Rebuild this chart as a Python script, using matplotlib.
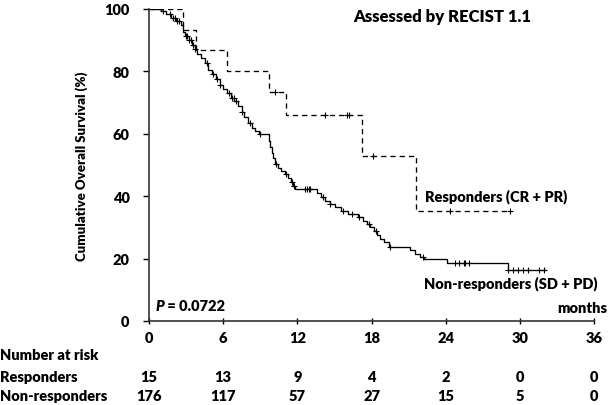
import numpy as np
import matplotlib
matplotlib.use("Agg")
import matplotlib.pyplot as plt
from matplotlib.transforms import blended_transform_factory

plt.rcParams["font.family"] = ["Lato", "DejaVu Sans"]
BOLD = 800
plt.rcParams["font.weight"] = BOLD

# Responders (CR + PR): step times (months) and survival (%) after each event
resp_times = [0, 2.77, 3.78, 6.28, 9.7, 11.05, 17.2, 21.6]
resp_surv = [100, 93.3, 86.7, 80.0, 73.3, 66.0, 52.8, 35.2]
resp_end = 29.2
resp_censor = [10.2, 14.2, 16.0, 16.15, 18.1, 24.3, 29.2]

# Non-responders (SD + PD)
nonresp_times = [0, 1.0, 1.4, 1.8, 2.2, 2.6, 2.75, 2.9, 3.2, 3.5, 3.7, 3.9, 4.2,
                 4.5, 4.8, 5.1, 5.4, 5.7, 6.0, 6.3, 6.6, 6.9, 7.2, 7.5, 7.7, 8.0,
                 8.3, 8.6, 8.9, 9.7, 9.8, 9.95, 10.05, 10.2, 10.4, 10.7, 11.0,
                 11.2, 11.45, 11.65, 11.8, 13.6, 13.9, 14.2, 14.6, 15.0, 15.5,
                 16.1, 16.9, 17.3, 17.6, 17.9, 18.2, 18.4, 18.7, 19.0, 19.4,
                 21.1, 21.5, 21.9, 22.2, 24.1, 29.05]
nonresp_surv = [100, 99.4, 98.3, 97.2, 96.0, 95.0, 92.5, 91.4, 90.2, 88.5, 87.2,
                85.6, 84.4, 82.6, 80.5, 79.3, 77.5, 75.6, 74.4, 73.2, 71.6, 70.5,
                68.8, 67.0, 65.3, 63.6, 62.0, 60.9, 59.9, 57.6, 55.8, 54.0, 52.2,
                50.3, 49.1, 48.0, 47.0, 45.8, 44.6, 43.4, 42.4, 41.0, 39.6, 38.5,
                37.4, 36.4, 35.4, 34.3, 33.2, 32.2, 31.1, 30.0, 28.8, 27.6, 26.4,
                25.2, 23.7, 22.6, 21.4, 20.6, 19.9, 18.6, 16.3]
nonresp_end = 32.0
nonresp_censor = [1.15, 1.7, 1.9, 2.1, 2.3, 2.45, 2.95, 3.1, 3.25, 3.4, 3.55,
                  3.75, 4.7, 5.15, 5.5, 5.75, 6.45, 6.7, 6.85, 7.0, 7.55, 8.2,
                  9.0, 10.25, 11.05, 11.6, 11.75, 12.6, 12.75, 12.9, 13.05,
                  14.05, 14.65, 15.7, 16.4, 17.0, 17.8, 18.35, 19.5, 22.15,
                  24.7, 25.1, 25.45, 25.55, 25.9, 29.05, 29.45, 29.85, 30.25,
                  30.65, 31.5, 31.9]

risk_times = [0, 6, 12, 18, 24, 30, 36]
risk_resp = [15, 13, 9, 4, 2, 0, 0]
risk_nonresp = [176, 117, 57, 27, 15, 5, 0]


def surv_at(times, surv, t):
    idx = np.searchsorted(times, t, side="right") - 1
    return np.asarray(surv)[idx]


fig = plt.figure(figsize=(6.16, 4.06), dpi=100)
ax = fig.add_axes([0.2419, 0.2069, 0.7229, 0.7685])

# curves
ax.step(resp_times + [resp_end], resp_surv + [resp_surv[-1]], where="post",
        color="black", lw=0.95, linestyle=(0, (4, 3)))
ax.step(nonresp_times + [nonresp_end], nonresp_surv + [nonresp_surv[-1]],
        where="post", color="black", lw=0.95)

# censor marks
ax.plot(resp_censor, surv_at(resp_times, resp_surv, resp_censor), "+",
        color="black", ms=5, mew=0.8)
ax.plot(nonresp_censor, surv_at(nonresp_times, nonresp_surv, nonresp_censor),
        "+", color="black", ms=5, mew=0.8)

ax.set_xlim(0, 36)
ax.set_ylim(0, 100)
ax.set_xticks(risk_times)
ax.set_yticks([0, 20, 40, 60, 80, 100])
ax.spines["top"].set_visible(False)
ax.spines["right"].set_visible(False)
for s in ["left", "bottom"]:
    ax.spines[s].set_linewidth(1.2)
    ax.spines[s].set_color("#333333")
ax.tick_params(axis="x", direction="inout", length=5, width=1, labelsize=10.5,
               pad=5)
ax.tick_params(axis="y", direction="out", length=4, width=1, labelsize=10.5,
               pad=10)
ax.set_ylabel("Cumulative Overall Survival (%)", fontsize=9.5,
              fontweight=BOLD, labelpad=12)

ax.text(16.5, 97.8, "Assessed by RECIST 1.1", fontsize=12, fontweight=BOLD,
        va="center", ha="left")
ax.text(22.3, 40.2, "Responders (CR + PR)", fontsize=10.5, fontweight=BOLD,
        va="center", ha="left")
ax.text(22.2, 12.2, "Non-responders (SD + PD)", fontsize=10.5,
        fontweight=BOLD, va="center", ha="left")
p_txt = ax.text(0.5, 5.1, "P", fontsize=10.5, fontweight=BOLD,
                style="italic", va="center", ha="left")
ax.annotate(" = 0.0722", xy=(1, 0.5), xycoords=p_txt, fontsize=10.5,
            fontweight=BOLD, va="center", ha="left")
ax.text(1.03, 4.2, "months", fontsize=10.5, fontweight=BOLD, va="center",
        ha="right", transform=blended_transform_factory(ax.transAxes,
                                                        ax.transData))

# number at risk table
trans = blended_transform_factory(ax.transData, fig.transFigure)
fig.text(0.0, 1 - 356 / 406, "Number at risk", fontsize=10.5,
         fontweight=BOLD, va="center", ha="left")
fig.text(0.0, 1 - 378 / 406, "Responders", fontsize=10.5, fontweight=BOLD,
         va="center", ha="left")
fig.text(0.0, 1 - 397 / 406, "Non-responders", fontsize=10.5,
         fontweight=BOLD, va="center", ha="left")
for t, r1, r2 in zip(risk_times, risk_resp, risk_nonresp):
    ax.text(t, 1 - 378 / 406, str(r1), transform=trans, fontsize=10.5,
            fontweight=BOLD, ha="center", va="center")
    ax.text(t, 1 - 397 / 406, str(r2), transform=trans, fontsize=10.5,
            fontweight=BOLD, ha="center", va="center")

fig.savefig("out.png", dpi=100)
plt.close(fig)
